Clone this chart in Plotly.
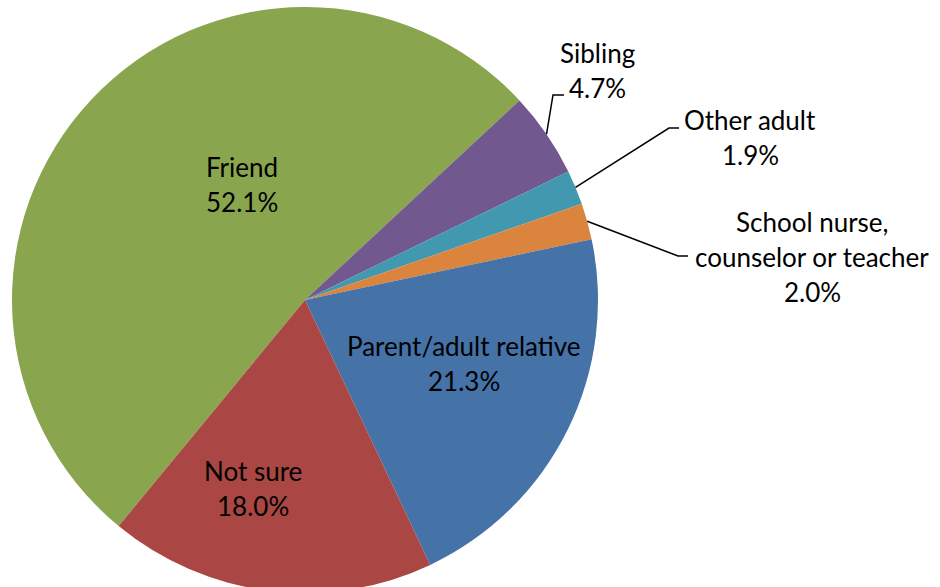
import math
import plotly.graph_objects as go

# ---- data ----
categories = ["Friend", "Sibling", "Other adult", "School nurse, counselor or teacher",
              "Parent/adult relative", "Not sure"]
values = [52.1, 4.7, 1.9, 2.0, 21.3, 18.0]
colors = ["#89A54E", "#71588F", "#4198AF", "#DB843D", "#4572A7", "#AA4643"]

# label text lines
label_lines = [
    ["Friend", "52.1%"],
    ["Sibling", "4.7%"],
    ["Other adult", "1.9%"],
    ["School nurse,", "counselor or teacher", "2.0%"],
    ["Parent/adult relative", "21.3%"],
    ["Not sure", "18.0%"],
]

# ---- layout / style ----
W, H = 940, 594
CX, CY, R = 305, 300, 293
ROT = 219.5
FONT = "Lato"
FS = 26
LINE_GAP = 35

# label centre positions (pixels: x centre, y of first line)
label_pos = [(242, 167), (597, 53), (750, 120), (812, 222), (464, 346), (253, 471)]
# leader line elbow / end (pixels) for outside labels
leaders = {1: [(553, 95), (564, 95)], 2: [(669, 128), (679, 128)], 3: [(678, 256), (688, 256)]}


def px(x):
    return x / W


def py(y):
    return 1 - y / H


fig = go.Figure(go.Pie(
    labels=categories, values=values, sort=False, direction="clockwise",
    rotation=ROT, textinfo="none", hoverinfo="label+percent",
    marker=dict(colors=colors, line=dict(width=0)),
    domain=dict(x=[px(CX - R), px(CX + R)], y=[max(0, py(CY + R)), py(CY - R)]),
    showlegend=False,
))

annotations = []
for (x0, y0), lines in zip(label_pos, label_lines):
    for k, t in enumerate(lines):
        annotations.append(dict(text=t, x=px(x0), y=py(y0 + k * LINE_GAP), xref="paper", yref="paper",
                                showarrow=False, xanchor="center", yanchor="middle",
                                font=dict(family=FONT, size=FS, color="#000000")))

shapes = []
total = sum(values)
cum = 0.0
for i, v in enumerate(values):
    mid = ROT + (cum + v / 2) / total * 360
    cum += v
    if i in leaders:
        a = math.radians(mid)
        ax, ay = CX + R * math.sin(a), CY - R * math.cos(a)
        pts = [(ax, ay)] + leaders[i]
        path = "M " + " L ".join(f"{px(x):.5f},{py(y):.5f}" for x, y in pts)
        shapes.append(dict(type="path", path=path, xref="paper", yref="paper",
                           line=dict(color="#000000", width=1.5)))

fig.update_layout(
    width=W, height=H, margin=dict(l=0, r=0, t=0, b=0),
    paper_bgcolor="white", plot_bgcolor="white",
    annotations=annotations, shapes=shapes,
)

fig.write_html("out.html", config={"displayModeBar": False},
               post_script="document.body.style.margin='0';document.body.style.overflow='hidden';")
